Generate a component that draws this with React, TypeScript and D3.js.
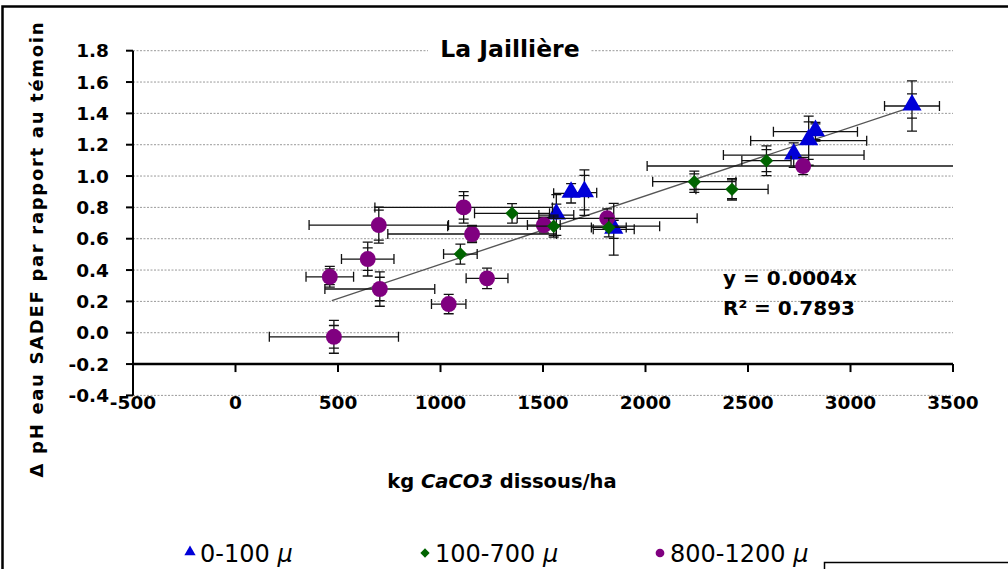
import React from 'react';
import * as d3 from 'd3';

// axis ticks
const xTicks = [-500, 0, 500, 1000, 1500, 2000, 2500, 3000, 3500];
const yTicks = [-0.4, -0.2, 0.0, 0.2, 0.4, 0.6, 0.8, 1.0, 1.2, 1.4, 1.6, 1.8];

// 0-100 µ (blue triangles)
const blueX = [1565, 1637, 1702, 1845, 2723, 2796, 2829, 3300];
const blueY = [0.751, 0.89, 0.894, 0.66, 1.134, 1.226, 1.283, 1.447];
const blueXErr = [85, 85, 60, 100, 343, 283, 205, 134];
const blueYErr = [0.13, 0.062, 0.145, 0.165, 0.078, 0.157, 0.06, 0.16];
const blueYErrIn = [0.07, 0.062, 0.11, 0.058, 0.078, 0.12, 0.05, 0.077];

// 100-700 µ (green diamonds)
const greenX = [1097, 1349, 1552, 1821, 2238, 2422, 2590];
const greenY = [0.502, 0.762, 0.68, 0.672, 0.964, 0.915, 1.098];
const greenXErr = [82, 183, 517, 85, 203, 176, 120];
const greenYErr = [0.064, 0.062, 0.07, 0.06, 0.068, 0.068, 0.095];
const greenYErrIn = [0.064, 0.062, 0.06, 0.06, 0.05, 0.06, 0.07];

// 800-1200 µ (purple circles)
const purpleX = [1113, 699, 1154, 645, 460, 704, 1040, 1227, 480, 1504, 1813, 2769];
const purpleY = [0.8, 0.687, 0.63, 0.47, 0.357, 0.279, 0.183, 0.347, -0.026, 0.687, 0.73, 1.064];
const purpleXErr = [433, 340, 411, 128, 116, 268, 84, 102, 315, 80, 439, 761];
const purpleYErr = [0.1, 0.115, 0.055, 0.108, 0.066, 0.11, 0.062, 0.065, 0.105, 0.05, 0.06, 0.055];
const purpleYErrIn = [0.075, 0.096, 0.045, 0.072, 0.05, 0.075, 0.062, 0.065, 0.072, 0.05, 0.06, 0.055];

// linear trend through origin (as displayed: y = 0.0004x, R² = 0.7893)
const trendSlope = 0.000437;
const trendRange = [470, 3300];

const FONT = "'DejaVu Sans', sans-serif";

const xScale = d3.scaleLinear().domain([-500, 3500]).range([133, 953]);
const yScale = d3.scaleLinear().domain([-0.4, 1.8]).range([395.4, 50.7]);

type Pt = { x: number; y: number; xe: number; ye: number; yi: number };

const zip = (xs: number[], ys: number[], xe: number[], ye: number[], yi: number[]): Pt[] =>
  xs.map((x, i) => ({ x, y: ys[i], xe: xe[i], ye: ye[i], yi: yi[i] }));

const series = [
  { name: '0-100', color: '#0000d8', shape: 'triangle', pts: zip(blueX, blueY, blueXErr, blueYErr, blueYErrIn) },
  { name: '800-1200', color: '#800080', shape: 'circle', pts: zip(purpleX, purpleY, purpleXErr, purpleYErr, purpleYErrIn) },
  { name: '100-700', color: '#006400', shape: 'diamond', pts: zip(greenX, greenY, greenXErr, greenYErr, greenYErrIn) },
];

const symbolPath = (shape: string, size: number) => {
  const t = shape === 'triangle' ? d3.symbolTriangle : shape === 'diamond' ? d3.symbolDiamond2 : d3.symbolCircle;
  return d3.symbol().type(t).size(size)() || '';
};

const ErrorBars: React.FC<{ p: Pt }> = ({ p }) => {
  const cx = xScale(p.x);
  const cy = yScale(p.y);
  const x0 = xScale(p.x - p.xe);
  const x1 = xScale(p.x + p.xe);
  const yTop = yScale(p.y + p.ye);
  const yBot = yScale(p.y - p.ye);
  const yiTop = yScale(p.y + p.yi);
  const yiBot = yScale(p.y - p.yi);
  const c = 5;
  return (
    <g stroke="#111" strokeWidth={1.3} fill="none">
      <line x1={x0} x2={x1} y1={cy} y2={cy} />
      <line x1={x0} x2={x0} y1={cy - c} y2={cy + c} />
      <line x1={x1} x2={x1} y1={cy - c} y2={cy + c} />
      <line x1={cx} x2={cx} y1={yTop} y2={yBot} />
      <line x1={cx - c} x2={cx + c} y1={yTop} y2={yTop} />
      <line x1={cx - c} x2={cx + c} y1={yBot} y2={yBot} />
      {p.yi !== p.ye && (
        <>
          <line x1={cx - c} x2={cx + c} y1={yiTop} y2={yiTop} />
          <line x1={cx - c} x2={cx + c} y1={yiBot} y2={yiBot} />
        </>
      )}
    </g>
  );
};

const Marker: React.FC<{ shape: string; color: string; x: number; y: number; size: number }> = ({ shape, color, x, y, size }) => (
  <path
    d={symbolPath(shape, size)}
    transform={`translate(${x},${y + (shape === 'triangle' ? -1 : 0)})`}
    fill={color}
  />
);

const App: React.FC = () => {
  const plotLeft = xScale(-500);
  const plotRight = xScale(3500);
  const axisY = yScale(-0.2);
  const markerSize = { triangle: 160, circle: 200, diamond: 115 } as Record<string, number>;

  // equal-width legend columns, as Excel lays out a bottom legend
  const legendItems = [
    { label: '0-100', shape: 'triangle', color: '#0000d8' },
    { label: '100-700', shape: 'diamond', color: '#006400' },
    { label: '800-1200', shape: 'circle', color: '#800080' },
  ];
  const legendX = d3.scalePoint<string>().domain(legendItems.map((d) => d.label)).range([190, 660]);

  return (
    <svg width={1008} height={569} style={{ position: 'absolute', left: 0, top: 0, background: '#fff' }} fontFamily={FONT}>
      <defs>
        <clipPath id="plot">
          <rect x={plotLeft} y={yScale(1.8) - 30} width={plotRight - plotLeft} height={400} />
        </clipPath>
      </defs>
      <rect x={0} y={0} width={1008} height={569} fill="#fff" />

      {/* outer frame */}
      <path d="M2.5,569 V6.5 H1008" fill="none" stroke="#000" strokeWidth={2.5} />

      {/* gridlines */}
      {yTicks.map((t) => (
        <line key={t} x1={plotLeft} x2={plotRight} y1={yScale(t)} y2={yScale(t)} stroke="#9a9a9a" strokeWidth={1} strokeDasharray="2,1.5" />
      ))}

      {/* title */}
      <rect x={428} y={34} width={162} height={26} fill="#fff" />
      <text x={510} y={57} textAnchor="middle" fontSize={23.5} fontWeight="bold">La Jaillière</text>

      {/* y axis */}
      <line x1={plotLeft} x2={plotLeft} y1={yScale(1.8)} y2={yScale(-0.4)} stroke="#000" strokeWidth={2} />
      {yTicks.map((t) => (
        <g key={t}>
          <line x1={plotLeft - 7} x2={plotLeft} y1={yScale(t)} y2={yScale(t)} stroke="#000" strokeWidth={2} />
          <text x={109} y={yScale(t)} dy="0.36em" textAnchor="end" fontSize={18.5} fontWeight="bold">
            {d3.format('.1f')(t).replace('−', '-')}
          </text>
        </g>
      ))}

      {/* x axis (crosses at -0.2) */}
      <line x1={plotLeft} x2={plotRight} y1={axisY} y2={axisY} stroke="#000" strokeWidth={2.5} />
      {xTicks.map((t) => (
        <g key={t}>
          <line x1={xScale(t)} x2={xScale(t)} y1={axisY} y2={axisY + 8} stroke="#000" strokeWidth={2} />
          <text x={xScale(t)} y={409} textAnchor="middle" fontSize={18.5} fontWeight="bold">
            {String(t)}
          </text>
        </g>
      ))}

      {/* axis titles */}
      <text transform="translate(43,250) rotate(-90)" textAnchor="middle" fontSize={18} fontWeight="bold" textLength={455} lengthAdjust="spacing">
        Δ pH eau SADEF par rapport au témoin
      </text>
      <text x={502} y={488} textAnchor="middle" fontSize={19.5} fontWeight="bold">
        kg <tspan fontStyle="italic">CaCO3</tspan> dissous/ha
      </text>

      {/* trend line */}
      <line
        x1={xScale(trendRange[0])}
        x2={xScale(trendRange[1])}
        y1={yScale(trendSlope * trendRange[0])}
        y2={yScale(trendSlope * trendRange[1])}
        stroke="#555"
        strokeWidth={1.3}
      />

      {/* series */}
      <g clipPath="url(#plot)">
        {series.map((s) => (
          <g key={s.name}>
            {s.pts.map((p, i) => (
              <ErrorBars key={i} p={p} />
            ))}
            {s.pts.map((p, i) => (
              <Marker key={i} shape={s.shape} color={s.color} x={xScale(p.x)} y={yScale(p.y)} size={markerSize[s.shape]} />
            ))}
          </g>
        ))}
      </g>

      {/* equation */}
      <text x={723} y={285} fontSize={20} fontWeight="bold" style={{ whiteSpace: 'pre' }}>y = 0.0004x</text>
      <text x={723} y={315} fontSize={20} fontWeight="bold" style={{ whiteSpace: 'pre' }}>R² = 0.7893</text>

      {/* legend */}
      {legendItems.map((l) => {
        const lx = legendX(l.label) || 0;
        return (
          <g key={l.label}>
            <Marker shape={l.shape} color={l.color} x={lx} y={553} size={l.shape === 'circle' ? 60 : 55} />
            <text x={lx + 10} y={562} fontSize={24} style={{ whiteSpace: 'pre' }}>
              {l.label} <tspan fontStyle="italic">μ</tspan>
            </text>
          </g>
        );
      })}
      <path d="M824.5,569 V562.5 H1008" fill="none" stroke="#000" strokeWidth={1.5} />
    </svg>
  );
};

export default App;
